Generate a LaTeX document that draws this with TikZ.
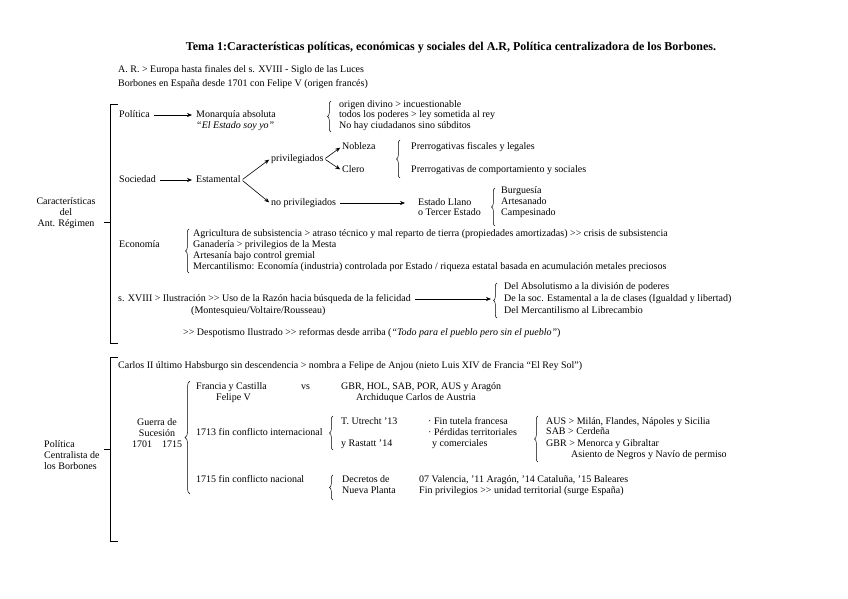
\documentclass[tikz,border=0pt]{standalone}
\usepackage{fontspec}
\setmainfont{Liberation Serif}[Ligatures=TeXOff]
\usetikzlibrary{arrows.meta,decorations.pathreplacing}

\begin{document}
\begin{tikzpicture}[x=1pt,y=-1pt,
  txt/.style={anchor=west,inner sep=1pt,text height=7.2pt,text depth=2.2pt,font=\fontsize{10}{11}\selectfont},
  arr/.style={-{Stealth[length=5pt,width=4pt]},line width=0.6pt,shorten <=3pt,shorten >=3pt},
  brc/.style={decorate,decoration={brace,amplitude=3.5pt},line width=0.5pt},
  bkt/.style={line width=0.6pt}]
\useasboundingbox (0,0) rectangle (848,599);

% Title
\node[font=\fontsize{12}{14}\selectfont\bfseries] (title) at (451,48)
  {Tema 1:Características políticas, económicas y sociales del A.R, Política centralizadora de los Borbones.};
\node[txt] (ar1) at (117,70) {A. R. > Europa hasta finales del s. XVIII - Siglo de las Luces};
\node[txt] (ar2) at (117,84) {Borbones en España desde 1701 con Felipe V (origen francés)};

% Antiguo Regimen bracket
\draw[bkt] (118,104) -- (110,104) -- (110,343) -- (118,343);
\draw[bkt] (110,222) -- (104,222);
\node[txt,anchor=center,align=center] (carac) at (66,224) {Características\\del\\Ant. Régimen};

% Politica
\node[txt] (pol) at (118,115) {Política};
\node[txt] (mon) at (195,115) {Monarquía absoluta};
\node[txt] (yo) at (195,126) {\textit{“El Estado soy yo”}};
\draw[arr] (pol) -- (mon);
\draw[brc] (331,132) -- (331,101);
\node[txt] (ori) at (338,105) {origen divino > incuestionable};
\node[txt] (pod) at (338,115) {todos los poderes > ley sometida al rey};
\node[txt] (sub) at (338,126) {No hay ciudadanos sino súbditos};

% Sociedad
\node[txt] (soc) at (118,180) {Sociedad};
\node[txt] (est) at (195,180) {Estamental};
\node[txt] (priv) at (270,159) {privilegiados};
\node[txt] (nopriv) at (270,203) {no privilegiados};
\draw[arr] (soc) -- (est);
\draw[arr,shorten <=1pt,shorten >=1pt] (est.east) -- (priv.west);
\draw[arr,shorten <=1pt,shorten >=1pt] (est.east) -- (nopriv.west);
\node[txt] (nob) at (341,147) {Nobleza};
\node[txt] (cle) at (341,170) {Clero};
\draw[arr,shorten <=1pt,shorten >=1pt] (priv.east) -- (nob.west);
\draw[arr,shorten <=1pt,shorten >=1pt] (priv.east) -- (cle.west);
\draw[brc] (400,178) -- (400,140);
\node[txt] (pfis) at (410,147) {Prerrogativas fiscales y legales};
\node[txt] (pcom) at (410,170) {Prerrogativas de comportamiento y sociales};
\node[txt] (llano) at (417,203) {Estado Llano};
\node[txt] (terc) at (417,213) {o Tercer Estado};
\draw[arr,shorten >=12pt] (nopriv) -- (llano);
\draw[brc] (495,226) -- (495,188);
\node[txt] (bur) at (500,191) {Burguesía};
\node[txt] (art) at (500,202) {Artesanado};
\node[txt] (cam) at (500,213) {Campesinado};

% Economia
\node[txt] (eco) at (118,245) {Economía};
\draw[brc] (189,273) -- (189,229);
\node[txt] (agr) at (192,234) {Agricultura de subsistencia > atraso técnico y mal reparto de tierra (propiedades amortizadas) >> crisis de subsistencia};
\node[txt] (gan) at (192,245) {Ganadería > privilegios de la Mesta};
\node[txt] (ats) at (192,256) {Artesanía bajo control gremial};
\node[txt] (mer) at (192,267) {Mercantilismo: Economía (industria) controlada por Estado / riqueza estatal basada en acumulación metales preciosos};

% Ilustracion
\node[txt] (ilu) at (117,299) {s. XVIII > Ilustración >> Uso de la Razón hacia búsqueda de la felicidad};
\node[txt] (mont) at (190,311) {(Montesquieu/Voltaire/Rousseau)};
\draw[brc] (497,318) -- (497,283);
\node[txt] (abs) at (503,287) {Del Absolutismo a la división de poderes};
\node[txt] (cla) at (503,299) {De la soc. Estamental a la de clases (Igualdad y libertad)};
\node[txt] (lib) at (503,311) {Del Mercantilismo al Librecambio};
\draw[arr,shorten >=12pt] (ilu) -- (cla);
\node[txt] (desp) at (182,333) {>> Despotismo Ilustrado >> reformas desde arriba (\textit{“Todo para el pueblo pero sin el pueblo”})};

% Borbones bracket
\draw[bkt] (118,357) -- (110,357) -- (110,541) -- (118,541);
\draw[bkt] (110,449) -- (104,449);
\node[txt,align=left] (borb) at (43,467) {Política\\Centralista de\\los Borbones};
\node[txt] (carlos) at (117,366) {Carlos II último Habsburgo sin descendencia > nombra a Felipe de Anjou (nieto Luis XIV de Francia “El Rey Sol”)};

% Guerra de Sucesion
\node[txt,anchor=center,align=center] (guerra) at (157,445) {Guerra de\\Sucesión\\1701\enspace\enspace 1715};
\draw[brc,decoration={amplitude=5pt}] (190,494) -- (190,381);
\node[txt] (fra) at (195,387) {Francia y Castilla};
\node[txt] (fel) at (215,398) {Felipe V};
\node[txt] (vs) at (300,387) {vs};
\node[txt] (alia) at (340,387) {GBR, HOL, SAB, POR, AUS y Aragón};
\node[txt] (arch) at (355,398) {Archiduque Carlos de Austria};

% 1713
\node[txt] (inter) at (195,433) {1713 fin conflicto internacional};
\draw[brc] (333,450) -- (333,416);
\node[txt] (utr) at (340,422) {T. Utrecht ’13};
\node[txt] (ras) at (340,444) {y Rastatt ’14};
\node[txt] (tut) at (427,422) {· Fin tutela francesa};
\node[txt] (per) at (427,433) {· Pérdidas territoriales};
\node[txt] (com) at (431,444) {y comerciales};
\draw[brc] (538,462) -- (538,416);
\node[txt] (aus) at (545,422) {AUS > Milán, Flandes, Nápoles y Sicilia};
\node[txt] (sab) at (545,432) {SAB > Cerdeña};
\node[txt] (gbr) at (545,444) {GBR > Menorca y Gibraltar};
\node[txt] (asi) at (570,455) {Asiento de Negros y Navío de permiso};

% 1715
\node[txt] (nac) at (195,480) {1715 fin conflicto nacional};
\draw[brc] (333,500) -- (333,475);
\node[txt] (dec) at (341,480) {Decretos de};
\node[txt] (nue) at (341,491) {Nueva Planta};
\node[txt] (val) at (418,480) {07 Valencia, ’11 Aragón, ’14 Cataluña, ’15 Baleares};
\node[txt] (finp) at (418,491) {Fin privilegios >> unidad territorial (surge España)};
\end{tikzpicture}
\end{document}
